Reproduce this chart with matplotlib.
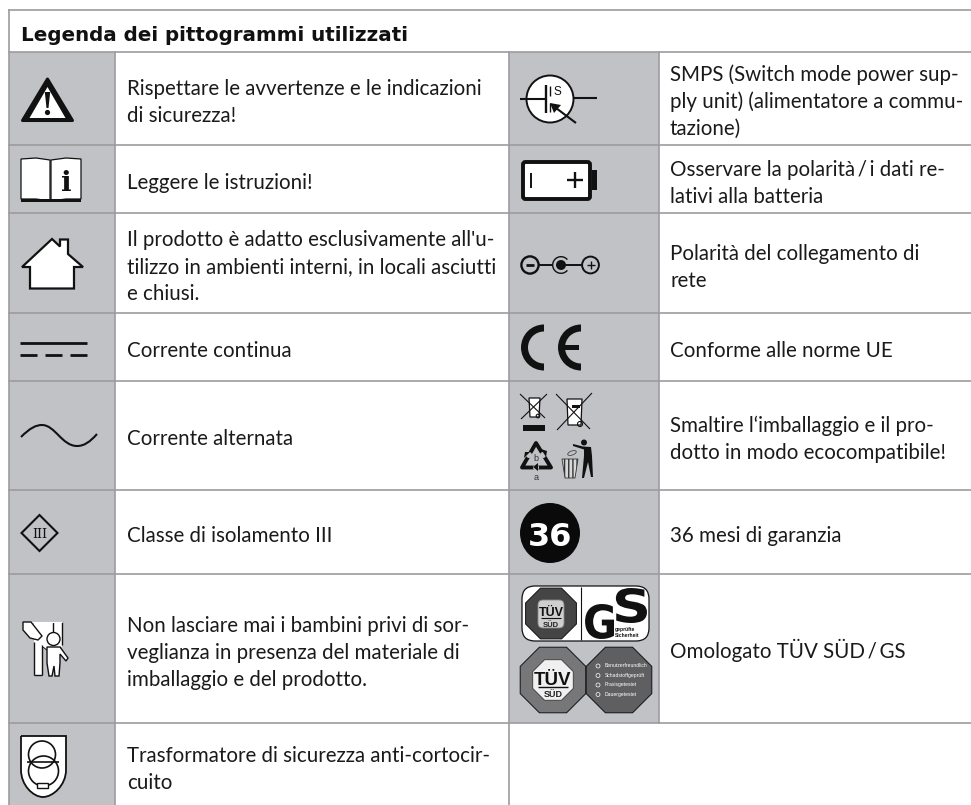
import numpy as np
import matplotlib
matplotlib.use('Agg')
import matplotlib.pyplot as plt
from matplotlib.patches import Rectangle, Circle, Polygon, FancyBboxPatch, PathPatch, Wedge, Ellipse
from matplotlib.path import Path
from matplotlib.textpath import TextPath
from matplotlib.font_manager import FontProperties

title = 'Legenda dei pittogrammi utilizzati'

left_lines = [
    ['Rispettare le avvertenze e le indicazioni', 'di sicurezza!'],
    ['Leggere le istruzioni!'],
    ["Il prodotto è adatto esclusivamente all'u-", 'tilizzo in ambienti interni, in locali asciutti', 'e chiusi.'],
    ['Corrente continua'],
    ['Corrente alternata'],
    ['Classe di isolamento III'],
    ['Non lasciare mai i bambini privi di sor-', 'veglianza in presenza del materiale di', 'imballaggio e del prodotto.'],
    ['Trasformatore di sicurezza anti-cortocir-', 'cuito'],
]
left_base = [95, 189, 246, 357, 445, 542, 632, 762]

right_lines = [
    ['SMPS (Switch mode power sup-', 'ply unit) (alimentatore a commu-', 'tazione)'],
    ['Osservare la polarità\u2009/\u2009i dati re-', 'lativi alla batteria'],
    ['Polarità del collegamento di', 'rete'],
    ['Conforme alle norme UE'],
    ['Smaltire l‘imballaggio e il pro-', 'dotto in modo ecocompatibile!'],
    ['36 mesi di garanzia'],
    ['Omologato TÜV SÜD\u2009/\u2009GS'],
]
right_base = [81, 176, 260, 357, 432, 542, 658]

row_y = [52, 145, 213, 313, 381, 490, 574, 723, 805]
col_x = [9, 115, 509, 659, 971]

GRID = '#9c9c9e'
CELL = '#c1c2c6'
INK = '#111111'
BODY = '#1a1a1a'
BODY_FONT = ['Lato', 'DejaVu Sans']

fig = plt.figure(figsize=(9.71, 8.05), dpi=100)
ax = fig.add_axes([0, 0, 1, 1])
ax.set_xlim(0, 971)
ax.set_ylim(805, 0)
ax.axis('off')

# grey pictogram columns
ax.add_patch(Rectangle((col_x[0], row_y[0]), col_x[1] - col_x[0], row_y[-1] - row_y[0], fc=CELL, ec='none'))
ax.add_patch(Rectangle((col_x[2], row_y[0]), col_x[3] - col_x[2], row_y[-2] - row_y[0], fc=CELL, ec='none'))

# grid
ax.plot([9, 971], [10, 10], color=GRID, lw=1.2)
for y in row_y[:-1]:
    ax.plot([9, 971], [y, y], color=GRID, lw=1.2)
ax.plot([9, 9], [10, 805], color=GRID, lw=1.2)
ax.plot([115, 115], [52, 805], color=GRID, lw=1.2)
ax.plot([509, 509], [52, 805], color=GRID, lw=1.2)
ax.plot([659, 659], [52, 723], color=GRID, lw=1.2)

ax.text(21, 41, title, fontsize=14.3, fontweight='bold', family='DejaVu Sans', color=INK, va='baseline')

for lines, y0 in zip(left_lines, left_base):
    for k, s in enumerate(lines):
        ax.text(127, y0 + k * 27, s, fontsize=14.8, family=BODY_FONT, color=BODY, va='baseline')
for lines, y0 in zip(right_lines, right_base):
    for k, s in enumerate(lines):
        ax.text(670, y0 + k * 27, s, fontsize=14.8, family=BODY_FONT, color=BODY, va='baseline')


def line(xs, ys, lw=1.2, c=INK, **kw):
    ax.plot(xs, ys, color=c, lw=lw, solid_capstyle=kw.pop('cap', 'butt'), **kw)


def poly(pts, fc='white', ec=INK, lw=1.0, z=3, **kw):
    ax.add_patch(Polygon(pts, closed=True, fc=fc, ec=ec, lw=lw, zorder=z, **kw))


def circ(x, y, r, fc='white', ec=INK, lw=1.0, z=3):
    ax.add_patch(Circle((x, y), r, fc=fc, ec=ec, lw=lw, zorder=z))


def octagon(cx, cy, r, fc, ec=INK, lw=0.7, z=3):
    a = np.radians(22.5 + 45 * np.arange(8))
    poly(np.c_[cx + r * np.cos(a), cy + r * np.sin(a)], fc=fc, ec=ec, lw=lw, z=z)


def fit_glyph(s, x0, y0, x1, y1, z=5):
    # stretch a bold letter into a box, y axis is flipped here
    tp = TextPath((0, 0), s, size=10, prop=FontProperties(family='DejaVu Sans', weight='bold'))
    v = tp.vertices
    sx = (x1 - x0) / (v[:, 0].max() - v[:, 0].min())
    sy = (y1 - y0) / (v[:, 1].max() - v[:, 1].min())
    pts = np.c_[x0 + (v[:, 0] - v[:, 0].min()) * sx, y1 - (v[:, 1] - v[:, 1].min()) * sy]
    ax.add_patch(PathPatch(Path(pts, tp.codes), fc=INK, ec='none', zorder=z))


# warning triangle
poly([(47.5, 79), (22.5, 120.5), (72.5, 120.5)], fc=INK, ec=INK, lw=2.2, joinstyle='round')
poly([(47.5, 87), (29.5, 118), (65.5, 118)], fc='white', ec='none', z=4)
poly([(44.8, 92), (50.2, 92), (48.5, 108), (46.5, 108)], fc=INK, ec='none', z=5)
circ(47.5, 112.5, 2.6, fc=INK, ec='none', z=5)

# book
poly([(21, 159), (36, 158), (50, 160), (50, 201), (36, 199), (21, 199)], lw=0.9)
poly([(51, 160), (66, 158), (81, 159), (81, 199), (66, 199), (51, 201)], lw=0.9)
ax.add_patch(Rectangle((21, 199), 60, 3, fc=INK, ec='none', zorder=4))
ax.text(66.5, 191, 'i', fontsize=20, fontweight='bold', family='DejaVu Serif', ha='center', va='baseline', color=INK, zorder=5)

# house
poly([(22, 267), (52, 239), (60, 246.5), (60, 239.5), (68, 239.5), (68, 254), (83, 267), (74, 267), (74, 288.5), (30, 288.5), (30, 267)], lw=1.6)

# direct current
line([20, 87], [343, 343], lw=2)
for a, b in [(20, 37), (45, 62), (70, 87)]:
    line([a, b], [355.5, 355.5], lw=2)

# alternating current
wave = Path([(21, 437), (30, 428), (36, 425), (42, 425), (55, 425), (62, 446), (77, 446), (84, 446), (90, 442), (97, 434)],
            [Path.MOVETO] + [Path.CURVE4] * 9)
ax.add_patch(PathPatch(wave, fc='none', ec=INK, lw=1.5))

# protection class III
poly([(39.5, 515), (57.5, 533), (39.5, 551), (21.5, 533)], fc='none', lw=1.5)
ax.text(39.5, 538, 'III', fontsize=9, family='DejaVu Serif', ha='center', va='baseline', color=INK, zorder=4)

# child and curtain
poly([(34, 622), (62, 622), (62, 647), (42, 647), (42, 675), (34, 675)], ec='none', z=2.5)
line([34, 34], [642, 675], lw=1, zorder=3)
line([34, 42], [675, 675], lw=1, zorder=3)
line([42, 42], [645, 675], lw=1, zorder=3)
line([53, 53], [622, 634], lw=1, zorder=3)
line([62, 62], [622, 645], lw=1, zorder=3)
line([23, 62], [622, 622], lw=0.8, c='white', zorder=3)
poly([(23, 622), (31, 622), (42, 636), (38, 640), (30, 638), (23, 630)], lw=1)
line([37, 48], [640, 649], lw=3)
line([37, 48], [640, 649], lw=1.6, c='white')
poly([(47, 647), (60, 647), (68, 658), (66, 661), (60, 654), (60, 663), (59, 676), (55, 676), (54, 666), (52, 676), (49, 676), (47, 663)], lw=1)
circ(53.5, 639, 6.5, lw=1)

# transformer shield
shield = Path([(21, 736), (66, 736), (66, 770), (66, 785), (53, 797), (43, 797), (33, 797), (21, 785), (21, 770), (21, 736)],
              [Path.MOVETO, Path.LINETO, Path.LINETO, Path.CURVE4, Path.CURVE4, Path.CURVE4, Path.CURVE4, Path.CURVE4, Path.CURVE4, Path.LINETO])
ax.add_patch(PathPatch(shield, fc='white', ec=INK, lw=1.3, zorder=3))
ax.add_patch(Circle((42, 754.5), 13.5, fc='none', ec=INK, lw=1.2, zorder=4))
ax.add_patch(Circle((43.5, 771), 15, fc='none', ec=INK, lw=1.2, zorder=4))
line([27, 59], [762, 762], lw=1.2, zorder=4)
ax.add_patch(Rectangle((37, 783), 11, 5, fc='white', ec=INK, lw=1, zorder=4))

# transistor
circ(550, 99, 23.5, lw=1.4)
line([520, 546], [99, 99], lw=1.5, zorder=4)
line([546, 546], [85, 113], lw=1.7, zorder=4)
line([550, 550], [86, 96], lw=1, zorder=4)
line([550, 550], [103, 112], lw=1, zorder=4)
line([573, 597], [98.5, 98.5], lw=1.5, zorder=4)
line([552, 576], [105, 123], lw=1.5, zorder=4)
poly([(550, 103), (561, 105), (554, 113)], fc=INK, ec='none', z=5)
ax.text(554, 95, 'S', fontsize=8.5, family='Liberation Sans', color=INK, zorder=5)

# battery
ax.add_patch(FancyBboxPatch((523, 162), 67, 37, boxstyle='round,pad=0,rounding_size=2.5', fc='white', ec=INK, lw=2.8, zorder=3))
ax.add_patch(Rectangle((592, 170), 5, 20, fc=INK, ec='none', zorder=3))
line([530.5, 530.5], [173, 188], lw=1.4, zorder=4)
line([567, 583], [180, 180], lw=1.7, zorder=4)
line([575, 575], [172, 188], lw=1.7, zorder=4)

# mains polarity
circ(530, 265, 8.6, fc='none', lw=1.7)
line([526, 534], [265, 265], lw=2, zorder=4)
line([539, 553], [265, 265], lw=1.4, zorder=4)
ax.add_patch(Wedge((561, 265), 9, 40, 320, width=1.4, fc=INK, ec='none', zorder=4))
circ(561, 265, 5, fc=INK, ec='none', z=4)
line([562, 582], [265, 265], lw=1.4, zorder=4)
circ(590.5, 265, 8.4, fc='none', lw=1.4)
line([586.5, 594.5], [265, 265], lw=1, zorder=4)
line([590.5, 590.5], [261, 269], lw=1, zorder=4)

# CE mark
ax.add_patch(Wedge((544, 347.5), 23, 90, 270, width=7, fc=INK, ec='none', zorder=3))
ax.add_patch(Wedge((581, 347.5), 23, 90, 270, width=7, fc=INK, ec='none', zorder=3))
ax.add_patch(Rectangle((560, 345), 19, 5, fc=INK, ec='none', zorder=3))

# disposal: crossed bins
poly([(529, 398), (540, 398), (539, 417), (530, 417)], lw=0.9)
ax.add_patch(Rectangle((523, 425), 22, 6, fc=INK, ec='none', zorder=4))
line([521, 547], [419, 394], lw=0.8, zorder=4)
line([520, 545], [394, 418], lw=0.8, zorder=4)
poly([(567, 399), (582, 399), (581, 425), (568, 425)], lw=0.9)
ax.add_patch(Rectangle((572, 405), 8, 2.5, fc=INK, ec='none', zorder=4))
line([557, 592], [430, 393], lw=0.8, zorder=4)
line([556, 590], [394, 429], lw=0.8, zorder=4)
circ(580, 424, 2.5, fc='none', lw=0.8, z=4)
circ(538, 416, 1.8, fc='none', lw=0.8, z=4)

# disposal: recycling loop
poly([(536, 443), (522, 467.5), (551, 467.5)], fc='none', lw=2.8, joinstyle='round')
# gaps and arrows on the three sides
for gx, gy in [(529, 455), (543, 455), (536, 467.5)]:
    ax.add_patch(Circle((gx, gy), 3, fc=CELL, ec='none', zorder=3.5))
poly([(541, 449), (547, 451), (546, 457)], fc=INK, ec='none', z=4)
poly([(525, 452), (530, 452), (524, 458)], fc=INK, ec='none', z=4)
poly([(538, 463), (538, 471), (533, 467)], fc=INK, ec='none', z=4)
ax.text(536, 461, 'b', fontsize=6.5, family='Liberation Sans', ha='center', color='#333333', zorder=5)
ax.text(536, 480, 'a', fontsize=6.5, family='Liberation Sans', ha='center', color='#333333', zorder=5)

# disposal: bin man
poly([(562, 459), (578, 459), (575, 478), (565, 478)], fc='#d8d8d8', ec='#333333', lw=0.6, hatch='||||')
circ(584, 442.5, 3, fc=INK, ec='none')
poly([(573, 444), (583, 446.5), (591, 447), (592, 456), (593, 477), (591, 477), (588, 462), (584, 478), (582, 478), (584, 456), (584, 449.5), (573, 446)], fc=INK, ec='none')
ax.add_patch(Ellipse((572, 453), 9, 4, angle=-20, fc='none', ec='#444444', lw=0.6, zorder=4))

# 36 months
circ(550, 533, 30, fc='#0a0a0a', ec='none')
ax.text(550, 533.5, '36', fontsize=23, fontweight='bold', family='DejaVu Sans', color='white', ha='center', va='center_baseline', zorder=5)

# TUV / GS badge
ax.add_patch(FancyBboxPatch((522, 586), 127, 55, boxstyle='round,pad=0,rounding_size=13', fc='white', ec=INK, lw=0.9, zorder=3))
line([581, 581], [587, 640], lw=0.8, zorder=4)
octagon(551, 613.5, 27.5, '#454545', z=4)
ax.add_patch(FancyBboxPatch((538, 600), 26, 28, boxstyle='round,pad=0,rounding_size=5', fc='#cfcfcf', ec='#888888', lw=0.6, zorder=5))
ax.text(551, 616, 'TÜV', fontsize=9, fontweight='bold', family='Liberation Sans', ha='center', color=INK, zorder=6)
line([541, 561], [618, 618], lw=0.8, zorder=6)
ax.text(551, 627, 'SÜD', fontsize=5.5, fontweight='bold', family='Liberation Sans', ha='center', color='#222222', zorder=6)
fit_glyph('G', 583, 604, 614, 639)
fit_glyph('S', 612, 588, 647, 623)
ax.text(615, 631, 'geprüfte', fontsize=3.6, fontweight='bold', family='Liberation Sans', color=INK, zorder=6)
ax.text(615, 637, 'Sicherheit', fontsize=3.6, fontweight='bold', family='Liberation Sans', color=INK, zorder=6)

# TUV octagon seals
octagon(553, 680, 35.5, '#777779')
octagon(553, 680, 22, '#f0f0f0', ec='#444444', z=4)
ax.text(553, 685, 'TÜV', fontsize=13.5, fontweight='bold', family='Liberation Sans', ha='center', color=INK, zorder=5)
line([538, 568], [687, 687], lw=1, zorder=5)
ax.text(553, 697, 'SÜD', fontsize=6.5, fontweight='bold', family='Liberation Sans', ha='center', color='#222222', zorder=5)
octagon(619, 680, 35.5, '#5f5f61')
seal_items = ['Benutzerfreundlich', 'Schadstoffgeprüft', 'Praxisgetestet', 'Dauergetestet']
for k, s in enumerate(seal_items):
    y = 667 + k * 9.5
    ax.add_patch(Circle((598, y - 1), 2, fc='none', ec='white', lw=0.5, zorder=5))
    ax.text(605, y, s, fontsize=3.6, family='Liberation Sans', color='white', zorder=5)

fig.savefig('out.png', dpi=100)
